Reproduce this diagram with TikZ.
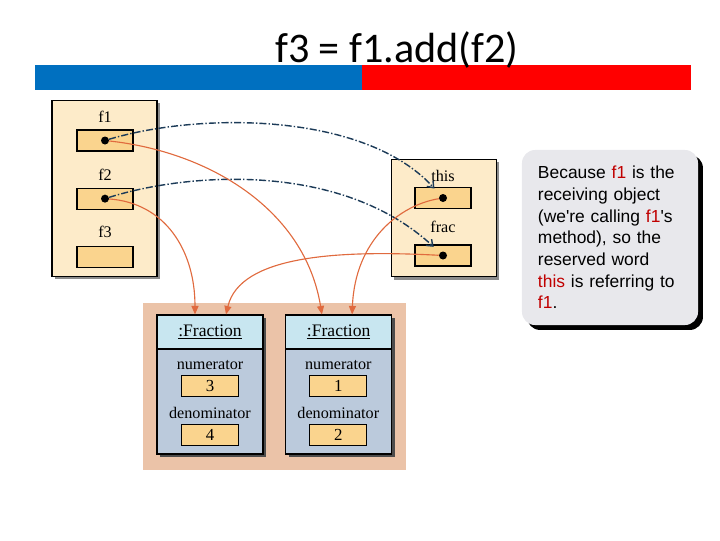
\documentclass[tikz,border=0pt]{standalone}
\usepackage{fontspec}
\setmainfont{Liberation Serif}
\newfontfamily\titlefont{Carlito}
\newfontfamily\notefont{Liberation Sans}
\usepackage{xcolor}
\usetikzlibrary{arrows.meta,positioning,shadows}

\definecolor{barblue}{HTML}{0070C0}
\definecolor{barred}{HTML}{FF0000}
\definecolor{frameback}{HTML}{FDEBC9}
\definecolor{slotfill}{HTML}{FAD48E}
\definecolor{heapback}{HTML}{EBC3A8}
\definecolor{headfill}{HTML}{C8E6F0}
\definecolor{bodyfill}{HTML}{BBCADC}
\definecolor{noteback}{HTML}{E8E8EC}
\definecolor{refblue}{HTML}{1C3B58}
\definecolor{ptrred}{HTML}{E06A3E}
\definecolor{keyred}{HTML}{C00000}

\begin{document}
\begin{tikzpicture}[x=0.025cm, y=-0.025cm]
    \tikzstyle{frame} = [rectangle, draw, thick, fill=frameback, drop shadow={shadow xshift=2pt, shadow yshift=-2pt, fill=black!45, opacity=1}]
    \tikzstyle{slot} = [rectangle, draw, thick, fill=slotfill, minimum width=1.4cm, minimum height=0.525cm, inner sep=0pt, font=\fontsize{12}{14}\selectfont]
    \tikzstyle{lbl} = [inner sep=0pt, text depth=0pt, font=\fontsize{11.5}{13}\selectfont]
    \tikzstyle{dot} = [circle, fill=black, minimum size=0.2cm, inner sep=0pt]
    \tikzstyle{object} = [rectangle, draw, thick, fill=bodyfill, minimum width=2.65cm, minimum height=3.475cm, drop shadow={shadow xshift=2pt, shadow yshift=-2pt, fill=black!70, opacity=1}]
    \tikzstyle{header} = [rectangle, draw, thick, fill=headfill, minimum width=2.65cm, minimum height=0.85cm, inner sep=0pt, font=\fontsize{12.5}{14}\selectfont]
    \tikzstyle{ref} = [draw=refblue, line width=1pt, dash pattern=on 5pt off 1.5pt on 1pt off 1.5pt, -{Straight Barb[length=4pt, width=6pt]}]
    \tikzstyle{ptr} = [draw=ptrred, line width=0.8pt, -{Triangle[length=6pt, width=5pt]}]
    \tikzstyle{note} = [rectangle, rounded corners=0.33cm, fill=noteback, minimum width=4.4cm, minimum height=4.375cm, text width=3.6cm, inner xsep=0.4cm, align=left, font=\notefont\fontsize{12.4}{15.4}\selectfont, drop shadow={shadow xshift=3.5pt, shadow yshift=-3.5pt, fill=black, opacity=1, fill opacity=1}]

    \useasboundingbox (0,0) rectangle (720,540);

    % Title
    \fill[barblue] (35,65) rectangle (362,90);
    \fill[barred] (362,65) rectangle (691,90);
    \node[anchor=base, inner sep=0pt, font=\titlefont\fontsize{30}{34}\selectfont] (title) at (397,62) {f3 = f1.add(f2)};

    % Caller variables
    \node[frame, minimum width=2.625cm, minimum height=4.4cm] (callframe) at (104.5,188.5) {};
    \node[slot] (f1slot) at (105,140.5) {};
    \node[slot, below=0.9cm of f1slot] (f2slot) {};
    \node[slot, below=0.9cm of f2slot] (f3slot) {};
    \node[lbl, above=5pt of f1slot] {f1};
    \node[lbl, above=4.5pt of f2slot] {f2};
    \node[lbl, above=5.5pt of f3slot] {f3};
    \node[dot] (d1) at (f1slot) {};
    \node[dot] (d2) at (f2slot) {};

    % Method variables
    \node[frame, minimum width=2.625cm, minimum height=2.945cm] (addframe) at (444,218) {};
    \node[slot, minimum width=1.4cm] (thisslot) at (443,198) {};
    \node[slot, minimum width=1.4cm] (fracslot) at (443,255.5) {};
    \node[lbl, above=3.5pt of thisslot] {this};
    \node[lbl, above=8pt of fracslot] {frac};
    \node[dot] (tdot) at (thisslot) {};
    \node[dot] (fdot) at (fracslot) {};

    % Heap
    \node[rectangle, fill=heapback, minimum width=6.55cm, minimum height=4.15cm] (heap) at (274.5,386.5) {};
    \node[object] (fracL) at (210,384.5) {};
    \node[header, below=0pt of fracL.north] (headL) {\underline{:Fraction}};
    \node[slot, minimum width=1.425cm] (numL) at (210,386) {3};
    \node[slot, minimum width=1.425cm] (denL) at (210,435) {4};
    \node[lbl, above=4pt of numL] {numerator};
    \node[lbl, above=4pt of denL] {denominator};

    \node[object] (fracR) at (338.7,384.5) {};
    \node[header, below=0pt of fracR.north] (headR) {\underline{:Fraction}};
    \node[slot, minimum width=1.425cm] (numR) at (338.3,386) {1};
    \node[slot, minimum width=1.425cm] (denR) at (338.3,435) {2};
    \node[lbl, above=4pt of numR] {numerator};
    \node[lbl, above=4pt of denR] {denominator};

    \coordinate (inL1) at ([xshift=-0.375cm]headL.north);
    \coordinate (inL2) at ([xshift=0.4cm]headL.north);
    \coordinate (inR1) at ([xshift=-0.42cm]headR.north);
    \coordinate (inR2) at ([xshift=0.335cm]headR.north);

    % References
    \draw[ref, shorten >=6pt] (d1) .. controls (200,112) and (365,112) .. (tdot);
    \draw[ref, shorten >=6pt] (d2) .. controls (190,172) and (342,162) .. (fdot);
    \draw[ptr] (d1) .. controls (210,152) and (305,210) .. (inR1);
    \draw[ptr] (d2) .. controls (165,203) and (195,250) .. (inL1);
    \draw[ptr] (tdot) .. controls (400,205) and (355,240) .. (inR2);
    \draw[ptr] (fdot) .. controls (340,250) and (240,255) .. (inL2);

    % Note
    \node[note] (note) at (610,237.5) {Because \textcolor{keyred}{f1} is the\\ receiving object\\ (we're calling \textcolor{keyred}{f1}'s\\ method), so the\\ reserved word\\ \textcolor{keyred}{this} is referring to\\ \textcolor{keyred}{f1}.};
\end{tikzpicture}
\end{document}
